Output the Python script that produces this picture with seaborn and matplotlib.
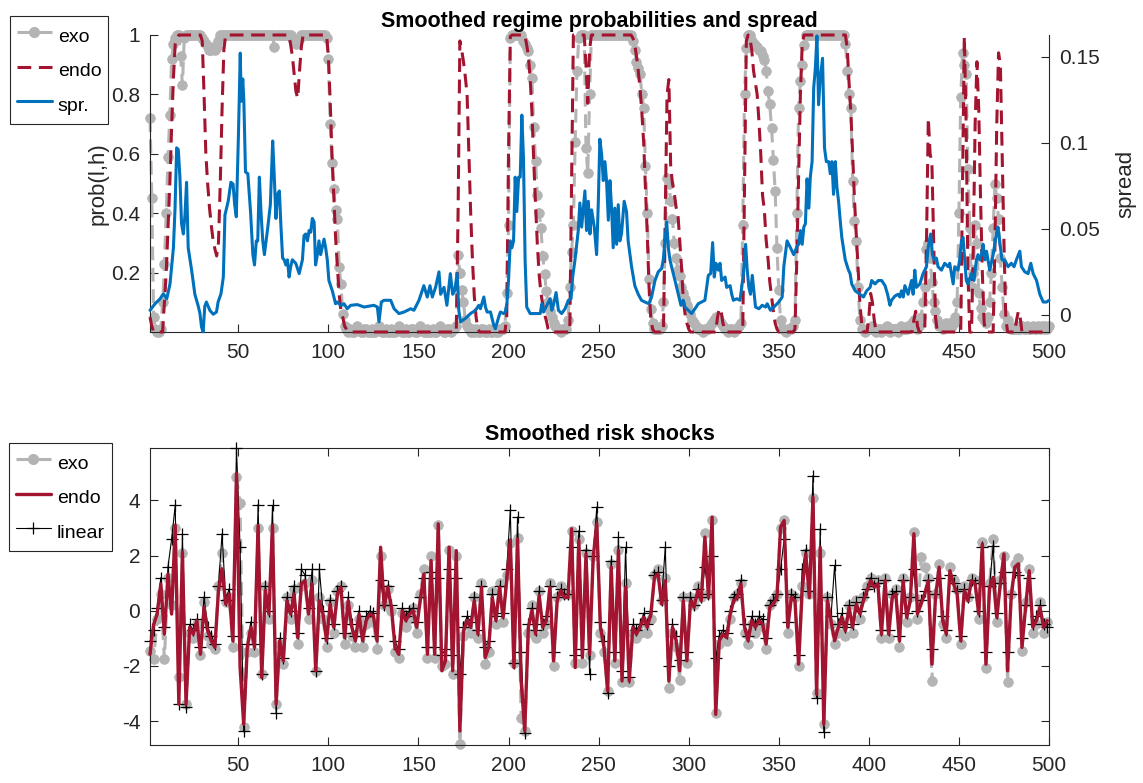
import numpy as np
import matplotlib
matplotlib.use("Agg")
import matplotlib.pyplot as plt
from matplotlib.lines import Line2D
import seaborn as sns

# ---------------- data ----------------
# smoothed probability, exogenous switching model (one value per period 1..500)
prob_exo = [
    0.72, 0.45, 0.05, 0.01, 0, 0, 0.01, 0.1, 0.23, 0.4, 0.59, 0.73, 0.92, 0.97, 0.99, 1, 1, 0.93, 0.83, 0.99,
    1, 1, 1, 1, 1, 1, 1, 1, 1, 0.99, 0.98, 0.97, 0.96, 0.95, 0.95, 0.96, 0.95, 0.96, 0.98, 1,
    1, 1, 1, 1, 1, 1, 1, 1, 1, 1, 1, 1, 1, 1, 1, 1, 1, 1, 1, 1,
    1, 1, 1, 1, 1, 1, 1, 1, 1, 0.96, 1, 1, 1, 1, 1, 1, 1, 1, 1, 0.99,
    0.98, 0.97, 0.98, 0.99, 1, 1, 1, 1, 1, 1, 1, 1, 1, 1, 1, 1, 1, 1, 0.99, 0.92,
    0.70, 0.57, 0.48, 0.41, 0.38, 0.22, 0.16, 0.06, 0.02, 0.01, 0, 0.01, 0, 0, 0.01, 0.02, 0.01, 0, 0, 0.01,
    0.01, 0, 0, 0.01, 0, 0, 0.01, 0.02, 0.01, 0, 0, 0.01, 0, 0, 0.01, 0, 0, 0.01, 0.02, 0.01,
    0, 0, 0.01, 0, 0, 0.01, 0.01, 0, 0, 0.01, 0.02, 0.01, 0, 0, 0.01, 0, 0, 0.01, 0, 0,
    0.01, 0.02, 0.01, 0, 0, 0.01, 0.01, 0, 0.01, 0.01, 0.02, 0.26, 0.2, 0.14, 0.1, 0.04, 0.02, 0.01, 0, 0.01,
    0, 0.01, 0, 0, 0.01, 0.01, 0, 0, 0.01, 0, 0, 0.01, 0, 0, 0.01, 0.01, 0.01, 0.02, 0.13, 0.36,
    0.99, 1, 1, 1, 1, 1, 1, 0.98, 0.97, 0.955, 0.945, 0.9, 0.855, 0.69, 0.575, 0.46, 0.4, 0.35, 0.256, 0.194,
    0.138, 0.1, 0.07, 0.05, 0.03, 0.02, 0.01, 0.01, 0, 0.01, 0.01, 0.01, 0.04, 0.15, 0.27, 0.36, 0.64, 0.88, 0.99, 1,
    1, 1, 0.62, 0.535, 0.8, 1, 1, 1, 1, 1, 1, 1, 1, 1, 1, 1, 1, 1, 1, 1,
    1, 1, 1, 1, 1, 1, 1, 1, 0.98, 0.95, 0.91, 0.89, 0.87, 0.8, 0.755, 0.56, 0.4, 0.18, 0.077, 0.03,
    0.01, 0.01, 0.01, 0.01, 0.02, 0.1, 0.3, 0.52, 0.5, 0.44, 0.38, 0.3, 0.25, 0.21, 0.19, 0.15, 0.13, 0.11, 0.09, 0.07,
    0.06, 0.04, 0.03, 0.02, 0.01, 0.01, 0.01, 0, 0.01, 0.01, 0.01, 0.02, 0.03, 0.04, 0.05, 0.05, 0.04, 0.03, 0.02, 0.01,
    0.01, 0, 0.01, 0.01, 0, 0.01, 0.01, 0.02, 0.03, 0.36, 0.8, 0.956, 1, 1, 0.98, 0.97, 0.965, 0.96, 0.95, 0.945,
    0.93, 0.917, 0.88, 0.81, 0.766, 0.687, 0.58, 0.475, 0.284, 0.14, 0.04, 0.01, 0.01, 0, 0.01, 0.01, 0.01, 0.02, 0.04, 0.4,
    0.755, 0.845, 0.9, 0.967, 1, 1, 1, 1, 1, 1, 1, 1, 1, 1, 1, 1, 1, 1, 1, 1,
    1, 1, 1, 1, 1, 1, 0.97, 0.88, 0.8, 0.755, 0.51, 0.374, 0.307, 0.15, 0.04, 0.01, 0.01, 0, 0.01, 0.01,
    0.01, 0.02, 0.01, 0, 0.01, 0.01, 0, 0.01, 0.01, 0.02, 0.01, 0, 0.01, 0.01, 0.01, 0, 0.01, 0.02, 0.01, 0.01,
    0.01, 0.02, 0.02, 0.03, 0.04, 0.02, 0.01, 0.02, 0.05, 0.1, 0.15, 0.28, 0.3, 0.25, 0.17, 0.1, 0.07, 0.04, 0.02, 0.02,
    0.01, 0.02, 0.03, 0.02, 0.03, 0.02, 0.03, 0.05, 0.1, 0.4, 0.79, 0.94, 0.9, 0.87, 0.55, 0.35, 0.15, 0.2, 0.36, 0.3,
    0.13, 0.08, 0.05, 0.04, 0.03, 0.05, 0.1, 0.2, 0.35, 0.5, 0.45, 0.38, 0.25, 0.15, 0.06, 0.02, 0.04, 0.02, 0.01, 0.01,
    0.01, 0.02, 0.01, 0.01, 0.02, 0.01, 0.01, 0.02, 0.01, 0.01, 0.02, 0.01, 0.01, 0.02, 0.01, 0.02, 0.01, 0.02, 0.01, 0.02,
]

# smoothed probability, endogenous switching model (read at its turning points)
endo_t = [1, 2, 3, 8, 9, 10, 11, 12, 13, 14, 15, 16, 17, 29, 30, 31, 32, 33, 34, 35, 36, 37, 38, 39, 40, 41, 42, 43,
          78, 79, 80, 81, 82, 83, 84, 85, 86, 99, 100, 101, 102, 103, 104, 105, 106, 107, 108, 109, 110, 111,
          171, 172, 173, 174, 175, 176, 177, 178, 179, 180, 181, 182, 183, 184, 198, 199, 200, 201, 202,
          209, 210, 211, 212, 213, 214, 215, 216, 217, 218, 219, 220, 221, 222, 223, 234, 235, 236,
          242, 243, 244, 245, 246, 268, 269, 270, 271, 272, 273, 274, 275, 276, 277, 278, 279, 280, 281,
          286, 287, 288, 289, 290, 291, 292, 293, 294, 295, 296, 297, 298, 299, 300, 301,
          315, 316, 317, 318, 319, 320, 321, 330, 331, 332, 333, 334, 335, 336, 337, 338, 339, 340, 341, 342,
          343, 344, 345, 346, 347, 348, 349, 350, 358, 359, 360, 361, 362, 363, 364,
          387, 388, 389, 390, 391, 392, 393, 394, 395, 396, 397, 399, 400, 401, 402, 403, 404,
          424, 425, 426, 427, 428, 431, 432, 433, 434, 435, 436, 437, 438,
          451, 452, 453, 454, 455, 456, 457, 458, 459, 460, 461, 462, 463, 464, 465,
          469, 470, 471, 472, 473, 474, 475, 476, 477, 481, 482, 483, 484, 485, 500]
prob_endo = [0.05, 0.02, 0, 0, 0.1, 0.2, 0.35, 0.5, 0.69, 0.855, 0.97, 0.99, 1, 1, 0.98, 0.8, 0.6, 0.5, 0.42, 0.36, 0.31, 0.28, 0.256, 0.3, 0.5, 0.75, 0.95, 1,
             1, 0.97, 0.93, 0.87, 0.81, 0.787, 0.88, 0.96, 1, 1, 0.93, 0.78, 0.6, 0.46, 0.32, 0.22, 0.127, 0.07, 0.05, 0.02, 0.01, 0,
             0, 0.4, 0.98, 0.95, 0.91, 0.86, 0.8, 0.6, 0.4, 0.24, 0.12, 0.05, 0.01, 0, 0, 0.05, 0.6, 0.995, 1,
             1, 0.97, 0.93, 0.855, 0.74, 0.575, 0.43, 0.295, 0.194, 0.13, 0.093, 0.06, 0.038, 0.01, 0, 0, 0.5, 1,
             1, 0.9, 0.77, 0.95, 1, 1, 0.99, 0.97, 0.93, 0.88, 0.82, 0.74, 0.64, 0.486, 0.33, 0.15, 0.04, 0.01, 0,
             0, 0.4, 0.8, 0.85, 0.56, 0.5, 0.468, 0.42, 0.4, 0.31, 0.22, 0.11, 0.06, 0.03, 0.01, 0,
             0, 0.05, 0.08, 0.07, 0.03, 0.01, 0, 0, 0.5, 0.98, 1, 0.99, 0.95, 0.88, 0.84, 0.8, 0.71, 0.6, 0.46, 0.41,
             0.31, 0.25, 0.17, 0.12, 0.07, 0.03, 0.01, 0, 0, 0.01, 0.24, 0.52, 0.8, 0.967, 1,
             1, 0.956, 0.84, 0.74, 0.6, 0.45, 0.33, 0.22, 0.1, 0.03, 0, 0, 0.05, 0.13, 0.1, 0.04, 0,
             0, 0.04, 0.07, 0.02, 0, 0, 0.3, 0.72, 0.6, 0.57, 0.3, 0.05, 0,
             0, 0.5, 0.995, 0.7, 0.2, 0, 0, 0.3, 0.7, 0.91, 0.75, 0.45, 0.2, 0.03, 0,
             0, 0.3, 0.7, 0.94, 0.9, 0.6, 0.3, 0.05, 0, 0, 0.04, 0.07, 0.05, 0, 0]

# credit spread (right axis)
spread_t = [1, 3.8, 6.6, 8.4, 10.3, 12.1, 14, 14.9, 15.8, 16.7, 17.6, 18.5, 19.5, 20.4, 21.3, 22.2, 24.1, 25.9, 27.8, 28.7,
            29.6, 30.5, 31.4, 32.3, 34.2, 36.1, 37.9, 38.8, 40.4, 41.7, 42.6, 44.4, 45.9, 47.1, 48, 48.9, 50.1, 51.1, 51.6, 52.5,
            53.1, 54, 55.3, 56.8, 58.1, 59, 60, 60.8, 61.7, 62.7, 63.6, 64.5, 66.4, 67.8, 69.1, 70, 70.9, 71.8, 72.8, 73.7,
            74.6, 75.5, 76.4, 77.3, 78.2, 79.1, 80, 81.9, 83.8, 85.6, 86.5, 87.4, 88.4, 89.3, 90.2, 91.1, 92.1, 92.9, 93.9, 94.8,
            95.7, 97.6, 98.5, 99.4, 100.3, 102.2, 104, 104.9, 106.8, 108.7, 110.5, 112.4, 116.1, 119.8, 125.3, 127.2, 128.1, 129.4, 130.9, 134.6,
            136.5, 139.2, 142, 145.7, 147.5, 150.3, 153, 154.9, 156.4, 157.7, 159.5, 161.4, 162.3, 164.2, 165.8, 167.7, 169, 170.1, 171.5, 172.4,
            173.3, 176.1, 178.9, 181.7, 183.5, 184.4, 186.3, 187.2, 188.1, 190, 191.8, 192.7, 194.6, 195.5, 197.3, 198.2, 199.1, 200, 201, 201.9,
            202.8, 203.7, 204.6, 205.6, 206.5, 207.4, 208.3, 209.2, 210.1, 212, 214.8, 217.6, 218.5, 219.4, 221.3, 223.1, 224, 224.9, 226.4, 227.7,
            229.5, 231.4, 233.2, 234.7, 235.6, 236.9, 238.7, 239.6, 240.6, 242.4, 243.3, 244.3, 245.2, 246.1, 247.6, 248.9, 249.8, 250.7, 251.7, 252.6,
            253.5, 254.4, 255.4, 256.3, 257.2, 258.1, 259, 260, 260.9, 261.8, 262.7, 264.2, 265.5, 266.4, 268.3, 270.1, 272, 273.8, 275.7, 277.9,
            279.4, 281.3, 283.1, 285, 285.9, 286.8, 287.8, 288.7, 289.6, 290.5, 292.4, 294.2, 295.7, 297, 297.9, 299.8, 301.6, 303.5, 305.3, 307.2,
            309, 310.9, 312.2, 313.3, 314.2, 315.2, 316.5, 317.4, 318.3, 320.2, 321.1, 323, 323.9, 324.8, 326.7, 328.5, 329.4, 330.4, 331.6, 332.5,
            333.4, 334.3, 335.3, 336.2, 337.1, 339, 340.8, 342.7, 343.6, 345.4, 347.3, 350, 351.9, 352.8, 354.6, 356.5, 358.3, 360.2, 361.1, 362,
            363, 363.9, 364.8, 365.7, 366.7, 367.5, 368.5, 369.4, 370.3, 371.2, 372.1, 373, 374.3, 375.4, 376.4, 377.7, 378.6, 379.5, 380.4, 381.4,
            382.3, 383.2, 384.1, 385, 386.9, 388.7, 389.6, 390.5, 392.4, 395.1, 397, 398.8, 400.7, 401.6, 403.4, 405.3, 407.1, 409, 410.4, 411.7,
            412.6, 414.5, 416.3, 417.2, 418.1, 419.1, 420, 421.8, 423.7, 424.6, 425.5, 426.4, 428.3, 430.1, 432, 432.9, 434.3, 435.3, 436.2, 437.5,
            438.4, 440.3, 442.1, 444, 444.9, 446.8, 447.7, 449.5, 450.4, 451.4, 452.3, 453.2, 454.1, 455, 456.9, 458.4, 459.7, 460.6, 461.6, 462.5,
            463.4, 464.4, 465.3, 467.1, 469, 470.8, 471.7, 472.6, 473.9, 475.4, 477.3, 479.1, 480.6, 481.9, 483.8, 484.7, 486.6, 488.4, 489.9, 491.2,
            493.1, 494.9, 496.8, 498.6, 500]
spread = [0.0027, 0.0065, 0.0094, 0.0123, 0.0094, 0.018, 0.039, 0.062, 0.097, 0.096, 0.080, 0.053, 0.047, 0.058, 0.077, 0.039, 0.026, 0.012, 0.005, 0.001,
          -0.007, -0.0098, 0.005, 0.0075, 0.0027, 0.0004, 0.0017, 0.0075, 0.0123, 0.022, 0.058, 0.066, 0.077, 0.076, 0.064, 0.057, 0.105, 0.152, 0.124, 0.137,
          0.124, 0.083, 0.082, 0.060, 0.035, 0.029, 0.043, 0.043, 0.080, 0.058, 0.043, 0.035, 0.051, 0.064, 0.101, 0.080, 0.056, 0.070, 0.072, 0.051,
          0.033, 0.032, 0.029, 0.032, 0.022, 0.028, 0.032, 0.030, 0.024, 0.032, 0.046, 0.047, 0.043, 0.049, 0.048, 0.056, 0.054, 0.029, 0.035, 0.043,
          0.035, 0.044, 0.039, 0.032, 0.020, 0.014, 0.0065, 0.0075, 0.0056, 0.0065, 0.0036, 0.0056, 0.006, 0.0046, 0.0056, 0.0046, -0.004, 0.0075, 0.0085, 0.0085,
          0.0036, 0.0008, 0.0017, 0.0036, 0.0027, 0.0085, 0.017, 0.0104, 0.017, 0.0104, 0.016, 0.025, 0.012, 0.016, 0.0056, 0.024, 0.012, 0.014, 0.024, 0.0027,
          -0.004, -0.002, 0.0008, 0.0027, 0.0056, 0.0036, 0.0104, 0.0046, 0.0017, 0.0017, -0.006, -0.008, -0.001, 0.0017, 0.0008, 0.0017, 0.0065, 0.020, 0.043, 0.039,
          0.043, 0.080, 0.060, 0.080, 0.080, 0.116, 0.091, 0.032, 0.0046, 0.0008, 0.0008, 0.0008, 0.0065, 0.0017, 0.0056, 0.0094, 0.0027, 0.0056, 0.013, 0.0027,
          0.0008, 0.0036, 0.0085, 0.0094, 0.022, 0.032, 0.049, 0.065, 0.051, 0.072, 0.049, 0.066, 0.047, 0.061, 0.051, 0.035, 0.064, 0.102, 0.093, 0.078,
          0.089, 0.078, 0.055, 0.078, 0.062, 0.039, 0.062, 0.041, 0.064, 0.043, 0.047, 0.066, 0.060, 0.043, 0.028, 0.017, 0.012, 0.0085, 0.0075, 0.0065,
          0.0104, 0.020, 0.025, 0.027, 0.032, 0.043, 0.054, 0.039, 0.032, 0.028, 0.020, 0.012, 0.0056, 0.0085, 0.0046, 0.0027, 0.0008, 0.0036, 0.0065, 0.0075,
          0.0085, 0.023, 0.024, 0.042, 0.022, 0.030, 0.026, 0.030, 0.020, 0.022, 0.016, 0.017, 0.012, 0.0085, 0.0094, 0.0085, 0.016, 0.024, 0.041, 0.026,
          0.016, 0.012, 0.023, 0.014, 0.0046, 0.0036, 0.0056, 0.0046, 0.0065, 0.0027, 0.0046, 0.0075, 0.0104, 0.028, 0.043, 0.039, 0.035, 0.040, 0.041, 0.049,
          0.041, 0.051, 0.053, 0.079, 0.062, 0.080, 0.089, 0.132, 0.143, 0.162, 0.122, 0.137, 0.149, 0.097, 0.089, 0.089, 0.082, 0.089, 0.070, 0.089,
          0.074, 0.066, 0.055, 0.045, 0.032, 0.026, 0.024, 0.018, 0.014, 0.012, 0.0104, 0.014, 0.016, 0.020, 0.018, 0.020, 0.020, 0.017, 0.012, 0.0056,
          0.0085, 0.011, 0.012, 0.0104, 0.014, 0.0104, 0.017, 0.012, 0.020, 0.012, 0.026, 0.016, 0.018, 0.024, 0.028, 0.039, 0.047, 0.035, 0.032, 0.033,
          0.028, 0.026, 0.030, 0.028, 0.030, 0.018, 0.028, 0.026, 0.032, 0.043, 0.045, 0.032, 0.020, 0.018, 0.024, 0.020, 0.032, 0.035, 0.032, 0.035,
          0.041, 0.032, 0.037, 0.026, 0.035, 0.047, 0.051, 0.043, 0.032, 0.032, 0.028, 0.030, 0.028, 0.032, 0.037, 0.028, 0.025, 0.024, 0.030, 0.024,
          0.020, 0.012, 0.0075, 0.0075, 0.0085]

# smoothed risk shocks, read every second period (1, 3, 5, ..., 499)
shock_exo = [
    -1.45, -1.76, -0.3, 0.6, -1.76, 1.2, 0.2, 3.0, -2.42, 2.1,
    -3.39, -0.8, -1.0, -0.5, -1.6, 0.3, -0.9, -1.2, -1.4, 0.9,
    2.1, 0.3, 0.5, -1.3, 4.85, 3.9, -4.2, -1.5, -0.8, -1.5,
    3.0, -2.3, 0.9, -0.3, 3.0, -3.39, -1.2, -1.93, 0.5, -0.3,
    0.8, -1.2, 0.9, 1.0, -0.3, 1.1, -2.2, 0.5, -0.3, -1.3,
    0.3, -0.8, 0.7, 0.9, -1.2, 0.2, -0.9, -1.3, -0.3, -1.3,
    -0.5, -0.3, -0.4, -1.4, 2.0, 0.2, 0.8, 0.0, -1.5, -1.7,
    -0.1, -0.6, -0.3, 0.1, -0.8, 0.6, 1.5, -1.7, 2.0, -1.7,
    3.1, -2.0, -1.94, 2.2, -2.3, 2.0, -4.85, -0.9, -0.5, -0.8,
    0.5, -1.0, 1.0, -1.94, -1.5, 0.7, -0.5, 1.0, -0.4, 1.3,
    2.45, -1.9, 2.65, -3.9, -4.36, -0.8, 0.2, -1.0, 0.7, -0.8,
    -0.5, 1.0, -2.0, 0.5, 0.9, 0.6, 0.6, 2.9, -1.9, 2.6,
    -1.9, 2.1, -1.6, 2.0, 3.2, -0.8, -1.5, -2.9, 1.7, -1.9,
    2.2, -2.6, 1.0, -2.6, -0.8, -1.0, -0.8, -0.4, -0.8, -0.3,
    1.3, 1.5, 0.4, 1.2, -2.79, -0.8, -1.3, -2.5, 0.5, -1.9,
    0.5, 0.2, 0.9, 0.5, 2.8, 0.6, 3.3, -3.7, -1.2, -1.0,
    -1.1, -0.3, 0.5, 0.6, 1.0, -0.8, -1.2, -0.5, -0.8, -0.5,
    -0.6, -1.4, 0.2, 0.4, 0.6, 3.0, 3.3, -0.8, 0.6, 0.5,
    -2.0, 0.9, 2.1, 0.6, 4.1, -3.0, 2.1, -4.12, 0.5, -0.5,
    -1.2, -0.8, -0.4, -0.9, 0.2, -0.8, 0.4, -0.3, 0.5, 0.9,
    1.2, 1.0, 1.1, -1.0, 1.2, -1.0, 0.6, 0.8, -1.3, 1.2,
    -0.4, 0.5, 2.85, -0.3, 1.94, 1.58, 1.2, -2.55, 0.6, 1.7,
    -0.5, -1.0, 1.6, 1.1, 0.8, -1.2, 0.9, 0.5, 1.2, 1.1,
    -0.3, 2.5, -2.06, 1.0, 2.6, -0.4, 1.1, 2.0, -2.6, 0.6,
    1.7, 1.9, -1.45, 0.3, 1.5, -0.8, -0.5, 0.3, -0.8, -0.4,
]
shock_endo = [
    -1.58, -0.5, -0.12, 0.97, -0.85, 1.33, -0.12, 3.09, -3.39, 2.12,
    -3.39, -0.6, -0.85, -0.36, -1.58, 0.12, -0.73, -1.09, -1.33, 0.73,
    1.52, 0.24, 0.6, -1.09, 4.97, -2.06, -4.12, -1.33, -0.6, -1.33,
    3.09, -2.42, 0.73, -0.12, 3.09, -3.39, -1.09, -1.82, 0.36, -0.12,
    0.6, -0.97, 0.97, 1.09, -0.12, 0.97, -2.18, 0.36, -0.12, -1.09,
    0.24, -0.6, 0.6, 0.85, -0.97, 0.36, -0.6, -1.09, -0.12, -1.09,
    -0.36, -0.12, -0.18, -1.09, 2.3, 0.12, 0.85, 0.12, -1.33, -1.58,
    0, -0.36, -0.12, 0, -0.6, 0.36, 1.33, -1.58, 1.82, -1.58,
    3.15, -2.18, -1.82, 2.3, -2.18, 2.18, -4.36, -0.73, -0.36, -0.6,
    0.36, -0.85, 0.85, -1.7, -1.33, 0.48, -0.36, 0.85, -0.24, 1.09,
    2.55, -2.06, 2.6, -2.55, -4.36, -0.6, 0, -0.85, 0.55, -0.6,
    -0.36, 0.85, -1.82, 0.36, 0.73, 0.48, 0.48, 2.97, -2.06, 2.55,
    -1.7, 2.06, -1.58, 1.94, 3.15, -0.6, -1.33, -2.9, 1.58, -1.82,
    2.18, -2.55, 0.85, -2.55, -0.6, -0.85, -0.6, -0.24, -0.6, -0.12,
    1.21, 1.33, 0.24, 1.09, -2.55, -0.6, -1.09, -2.18, 0.36, -1.82,
    0.36, 0.12, 0.73, 0.36, 2.67, 0.48, 3.39, -3.76, -1.09, -0.85,
    -0.97, -0.12, 0.36, 0.48, 0.97, -0.6, -1.09, -0.36, -0.6, -0.36,
    -0.48, -1.21, 0.12, 0.24, 0.48, 3.03, 3.27, -0.6, 0.48, 0.36,
    -1.94, 0.73, 2.06, 0.48, 4.12, -3.03, 2.3, -4.12, 0.36, -0.36,
    -1.09, -0.6, -0.24, -0.73, 0.12, -0.6, 0.24, -0.12, 0.36, 0.73,
    1.09, 0.85, 0.97, -0.85, 1.09, -0.85, 0.48, 0.6, -1.09, 1.09,
    -0.24, 0.36, 2.79, -0.12, 0.24, 0.6, 1.09, -1.94, 0.48, 1.58,
    -0.36, -0.85, 1.45, 0.97, 0.6, -1.09, 0.73, 0.36, 1.09, 0.97,
    -0.12, 2.42, -1.94, 0.85, 1.21, -0.24, 0.97, 2.06, -2.18, 0.48,
    1.58, 1.7, -1.33, 0.12, 1.45, -0.6, -0.36, 0.12, -0.6, -0.36,
]
shock_linear = [
    -1.1, -0.7, 0.1, 1.2, -0.6, 1.6, 2.6, 3.82, -3.39, 2.79,
    -3.5, -0.5, -0.7, -0.3, -1.3, 0.5, -0.6, -0.9, -1.2, 0.9,
    2.79, 0.4, 0.8, -0.9, 5.9, 2.3, -4.36, -1.2, -0.4, -1.2,
    3.85, -2.3, 0.9, 0.0, 3.82, -3.7, -1.0, -1.7, 0.5, 0.0,
    0.9, -0.8, 1.5, 1.3, 0.1, 1.5, -2.2, 1.5, 0.0, -1.0,
    0.4, -0.5, 0.7, 0.9, -0.8, 0.5, -0.5, -0.9, 0.0, -0.9,
    -0.2, 0.0, -0.1, -0.9, 1.1, 0.2, 0.9, 0.2, -1.1, -1.4,
    0.1, -0.2, 0.0, 0.1, -0.4, 0.5, 1.2, -1.3, 1.4, -1.3,
    1.2, -1.6, -1.4, 1.5, -1.6, 1.2, -2.3, -0.6, -0.2, -0.4,
    0.5, -0.7, 0.9, -1.3, -1.1, 0.6, -0.2, 0.9, -0.1, 1.5,
    3.64, -1.88, 3.4, -1.5, -4.42, -0.5, 0.1, -0.7, 0.7, -0.5,
    -0.2, 0.9, -1.5, 0.5, 0.8, 0.6, 0.6, 2.3, -1.6, 2.9,
    -1.4, 2.2, -2.3, 2.0, 3.76, -0.4, -1.1, -2.97, 1.8, -1.5,
    2.67, -2.2, 2.3, -2.4, -0.5, -0.7, -0.5, -0.1, -0.5, 0.0,
    1.3, 1.4, 0.4, 2.3, -2.0, -0.5, -0.9, -1.8, 0.5, -1.5,
    0.5, 0.2, 0.8, 0.5, 1.6, 0.6, 2.0, -1.7, -0.9, -0.7,
    -0.8, 0.0, 0.5, 0.6, 1.1, -0.5, -0.9, -0.2, -0.5, -0.2,
    -0.3, -1.0, 0.2, 0.4, 0.6, 1.5, 2.6, -0.4, 0.6, 0.5,
    -1.6, 1.5, 2.2, 0.7, 4.9, -3.15, 2.97, -4.4, 0.5, -0.2,
    1.64, -0.5, -0.1, -0.6, 0.2, -0.5, 0.3, 0.0, 0.5, 0.8,
    1.2, 0.9, 1.0, -0.7, 1.1, -0.7, 0.6, 0.7, -0.9, 1.1,
    -0.1, 0.5, 1.5, 0.0, 0.4, 0.7, 1.1, -1.4, 0.6, 1.2,
    -0.2, -0.7, 1.3, 1.0, 0.7, -0.9, 0.8, 0.5, 1.1, 1.0,
    0.0, 2.3, -1.5, 0.9, 2.36, -0.1, 1.0, 1.4, -1.5, 0.6,
    1.4, 1.3, -1.0, 0.2, 1.2, -0.5, -0.2, 0.2, -0.5, -0.6,
]

x_ticks = [50, 100, 150, 200, 250, 300, 350, 400, 450, 500]
prob_ticks = [0.2, 0.4, 0.6, 0.8, 1]
prob_ticklabels = ["0.2", "0.4", "0.6", "0.8", "1"]
spread_ticks = [0, 0.05, 0.1, 0.15]
spread_ticklabels = ["0", "0.05", "0.1", "0.15"]
shock_ticks = [-4, -2, 0, 2, 4]
shock_ticklabels = ["-4", "-2", "0", "2", "4"]

# ---------------- style ----------------
GRAY = "#b4b4b4"
RED = "#a2142f"
BLUE = "#0072bd"
INK = "#262626"
DASH = (0, (4.5, 2.5))

sns.set_theme(style="white")
plt.rcParams["font.family"] = ["Liberation Sans", "DejaVu Sans"]
plt.rcParams["axes.unicode_minus"] = False

W, H = 1143, 783
fig = plt.figure(figsize=(W / 100, H / 100), dpi=100)


def box(l, t, r, b):
    return [l / W, 1 - b / H, (r - l) / W, (b - t) / H]


ax1 = fig.add_axes(box(150, 35, 1049, 332))
ax2 = ax1.twinx()
ax3 = fig.add_axes(box(150, 448, 1049, 745))


def draw(ax, x, y, color, lw, dash=None, z=2, **kw):
    n = len(ax.lines)
    sns.lineplot(x=np.asarray(x, float), y=np.asarray(y, float), ax=ax, color=color,
                 linewidth=lw, estimator=None, sort=False, legend=False, **kw)
    line = ax.lines[n]
    if dash is not None:
        line.set_linestyle(dash)
    line.set_clip_on(False)
    line.set_zorder(z)
    return line


t_prob = np.arange(1, len(prob_exo) + 1)
t_shock = np.arange(1, 2 * len(shock_endo), 2)

# ---- top panel ----
draw(ax1, t_prob, prob_exo, GRAY, 2.2, DASH, 2, marker="o", markersize=7,
     markeredgecolor=GRAY, markerfacecolor=GRAY, markeredgewidth=0.5)
draw(ax1, endo_t, prob_endo, RED, 2.2, DASH, 3)
draw(ax2, spread_t, spread, BLUE, 2.2, None, 4)

ax1.set_xlim(1, 500)
ax1.set_ylim(0, 1)
ax2.set_ylim(-0.0099, 0.1625)
ax1.set_xticks(x_ticks)
ax1.set_xticklabels([str(v) for v in x_ticks])
ax1.set_yticks(prob_ticks)
ax1.set_yticklabels(prob_ticklabels)
ax2.set_yticks(spread_ticks)
ax2.set_yticklabels(spread_ticklabels)

for sp in ["top", "right"]:
    ax1.spines[sp].set_visible(False)
for sp in ["top", "left", "bottom"]:
    ax2.spines[sp].set_visible(False)
for sp in ["left", "bottom"]:
    ax1.spines[sp].set_color(INK)
    ax1.spines[sp].set_linewidth(0.8)
ax2.spines["right"].set_visible(True)
ax2.spines["right"].set_color(INK)
ax2.spines["right"].set_linewidth(0.8)

ax1.tick_params(axis="x", bottom=True, top=False, direction="in", length=6, width=0.8,
                color=INK, labelcolor=INK, labelsize=15, pad=8)
ax1.tick_params(axis="y", left=True, right=False, direction="in", length=6, width=0.8,
                color=INK, labelcolor=INK, labelsize=15, pad=7)
ax2.tick_params(axis="y", right=True, left=False, direction="in", length=6, width=0.8,
                color=INK, labelcolor=INK, labelsize=15, pad=7)
ax2.tick_params(axis="x", bottom=False, top=False, labelbottom=False)

ax1.set_ylabel("prob(l,h)", fontsize=16, color=INK, labelpad=2)
ax2.set_ylabel("spread", fontsize=16, color=INK, labelpad=11)
ax1.set_xlabel("")
ax1.set_title("Smoothed regime probabilities and spread", fontsize=15.5,
              fontweight="bold", color="black", pad=6)
ax1.grid(False)
ax2.grid(False)

# ---- bottom panel ----
draw(ax3, t_shock, shock_exo, GRAY, 2.2, DASH, 2, marker="o", markersize=7,
     markeredgecolor=GRAY, markerfacecolor=GRAY, markeredgewidth=0.5)
draw(ax3, t_shock, shock_linear, "black", 0.8, None, 3, marker="+", markersize=9,
     markeredgewidth=0.9, markeredgecolor="black")
draw(ax3, t_shock, shock_endo, RED, 2.4, None, 4)

ax3.set_xlim(1, 500)
ax3.set_ylim(-4.87, 5.9)
ax3.set_xticks(x_ticks)
ax3.set_xticklabels([str(v) for v in x_ticks])
ax3.set_yticks(shock_ticks)
ax3.set_yticklabels(shock_ticklabels)
for sp in ax3.spines.values():
    sp.set_visible(True)
    sp.set_color(INK)
    sp.set_linewidth(0.8)
ax3.tick_params(axis="x", bottom=True, top=True, direction="in", length=6, width=0.8,
                color=INK, labelcolor=INK, labelsize=15, pad=8)
ax3.tick_params(axis="y", left=True, right=True, direction="in", length=6, width=0.8,
                color=INK, labelcolor=INK, labelsize=15, pad=7)
ax3.set_xlabel("")
ax3.set_ylabel("")
ax3.set_title("Smoothed risk shocks", fontsize=15.5, fontweight="bold", color="black", pad=6)
ax3.grid(False)

# ---- legends ----
h_exo = Line2D([], [], color=GRAY, lw=2.2, linestyle=DASH, marker="o", markersize=7,
               markerfacecolor=GRAY, markeredgecolor=GRAY)
h_endo_d = Line2D([], [], color=RED, lw=2.2, linestyle=DASH)
h_spr = Line2D([], [], color=BLUE, lw=2.2)
h_endo_s = Line2D([], [], color=RED, lw=2.4)
h_lin = Line2D([], [], color="black", lw=0.8, marker="+", markersize=9, markeredgewidth=0.9)

leg_kw = dict(loc="upper left", fontsize=14, handlelength=1.8, handletextpad=0.3,
              handleheight=1.65, labelspacing=0.45, borderpad=0.35, borderaxespad=0,
              fancybox=False, framealpha=1, edgecolor=INK, numpoints=1,
              bbox_transform=fig.transFigure)
leg1 = fig.legend([h_exo, h_endo_d, h_spr], ["exo", "endo", "spr."],
                  bbox_to_anchor=(10 / W, 1 - 16 / H), **leg_kw)
leg2 = fig.legend([h_exo, h_endo_s, h_lin], ["exo", "endo", "linear"],
                  bbox_to_anchor=(9 / W, 1 - 443 / H), **leg_kw)
for lg in (leg1, leg2):
    lg.get_frame().set_linewidth(0.8)
    for txt in lg.get_texts():
        txt.set_color("black")

fig.savefig("out.png", dpi=100, facecolor="white")
